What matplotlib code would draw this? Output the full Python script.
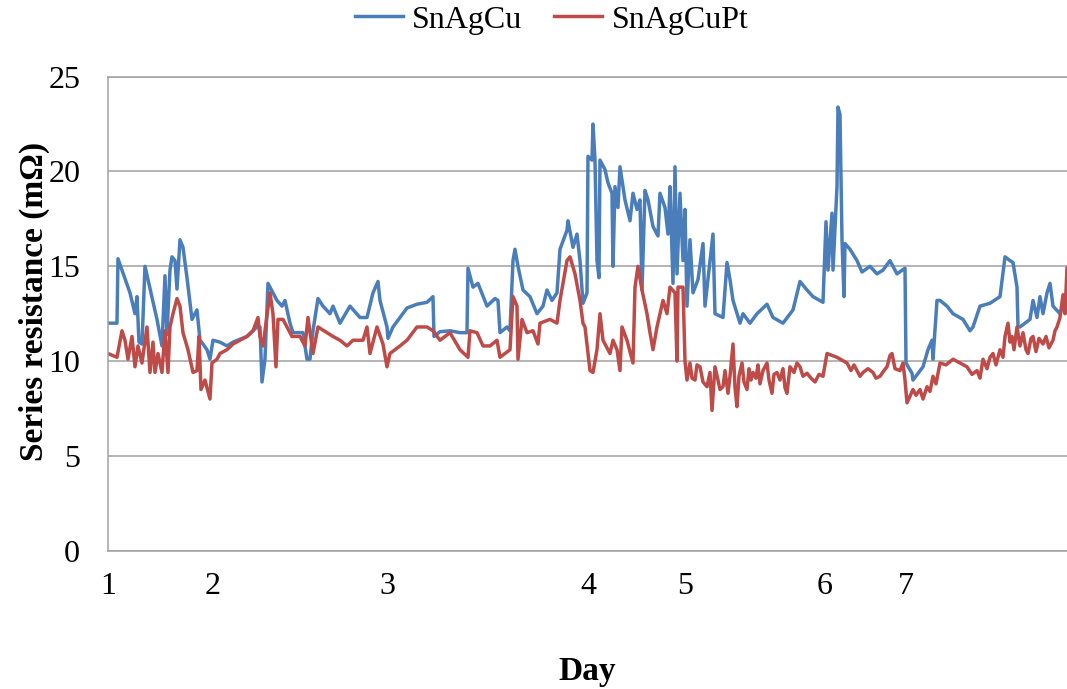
import matplotlib.pyplot as plt

# Series resistance of two solder alloys
# x = sample number along the run (category axis), y = resistance in mOhm
sample_cu = [0, 9, 10, 22, 27, 29, 31, 34, 37, 49, 54, 57, 59, 62, 64, 67, 69, 72, 75, 79,
             84, 89, 92, 95, 99, 102, 105, 112, 119, 125, 139, 149, 152, 154, 157, 160, 165, 169, 174, 177,
             182, 185, 195, 199, 202, 205, 210, 215, 222, 225, 232, 242, 252, 259, 265, 270, 272, 279, 280, 285,
             292, 299, 309, 319, 325, 326, 332, 342, 352, 359, 360, 365, 370, 379, 387, 390, 392, 399, 402, 405,
             407, 410, 415, 422, 429, 435, 439, 444, 449, 452, 459, 460, 465, 469, 472, 475, 479, 480, 484, 485,
             487, 489, 491, 492, 497, 500, 504, 505, 507, 510, 512, 517, 522, 525, 529, 532, 534, 537, 540, 545,
             550, 552, 557, 560, 562, 565, 567, 569, 572, 575, 577, 579, 582, 585, 590, 595, 597, 605, 607, 615,
             619, 622, 625, 632, 635, 642, 649, 659, 665, 675, 685, 692, 699, 705, 715, 718, 720, 724, 725, 729,
             730, 732, 734, 736, 737, 742, 749, 754, 762, 769, 775, 782, 789, 797, 798, 804, 805, 815, 820, 824,
             825, 829, 832, 839, 845, 855, 862, 865, 872, 882, 892, 897, 902, 905, 909, 910, 912, 922, 925, 929,
             932, 935, 939, 942, 945, 952, 955, 959]
res_cu = [12.0, 12.0, 15.4, 13.6, 12.5, 13.4, 11.0, 10.9, 15.0, 12.2, 10.8, 14.5, 11.4, 14.8, 15.5, 15.3, 13.8, 16.4, 16.0, 14.4,
          12.2, 12.7, 11.1, 10.9, 10.6, 10.1, 11.1, 11.0, 10.8, 11.0, 11.3, 11.8, 11.8, 8.9, 10.1, 14.1, 13.6, 13.2, 12.9, 13.2,
          12.0, 11.5, 11.5, 10.1, 10.1, 11.6, 13.3, 12.9, 12.5, 12.9, 12.0, 12.9, 12.3, 12.3, 13.6, 14.2, 13.2, 11.8, 11.2, 11.8,
          12.3, 12.8, 13.0, 13.1, 13.4, 11.3, 11.55, 11.6, 11.5, 11.5, 14.9, 13.9, 14.1, 12.9, 13.3, 13.2, 11.5, 11.8, 11.6, 15.3,
          15.9, 15.0, 13.75, 13.4, 12.5, 12.9, 13.75, 13.2, 13.6, 15.9, 16.9, 17.4, 16.0, 16.7, 15.3, 13.05, 13.6, 20.8, 20.6, 22.5,
          20.6, 15.3, 14.4, 20.6, 20.1, 19.4, 18.85, 15.0, 19.2, 18.1, 20.25, 18.5, 17.4, 18.85, 18.0, 18.5, 13.75, 19.0, 18.5, 17.1,
          16.6, 18.85, 18.1, 16.7, 19.2, 14.1, 20.25, 14.6, 18.85, 15.3, 18.0, 12.9, 16.4, 13.6, 14.3, 16.2, 12.9, 16.7, 12.5, 12.3,
          15.2, 14.3, 13.2, 12.0, 12.5, 12.0, 12.5, 13.0, 12.3, 12.0, 12.7, 14.2, 13.75, 13.4, 13.1, 17.35, 14.8, 17.8, 14.8, 19.2,
          23.4, 23.0, 16.4, 13.4, 16.2, 15.9, 15.3, 14.7, 15.0, 14.6, 14.8, 15.3, 14.6, 14.9, 9.9, 9.36, 9.0, 9.7, 10.6, 11.1,
          10.1, 13.2, 13.2, 12.9, 12.5, 12.2, 11.6, 11.8, 12.9, 13.05, 13.4, 15.5, 15.3, 15.2, 13.9, 11.8, 11.8, 12.2, 13.2, 12.3,
          13.4, 12.5, 13.6, 14.1, 12.9, 12.5, 12.9, 13.2]

sample_pt = [0, 9, 14, 17, 20, 24, 27, 30, 34, 39,
             42, 45, 47, 50, 54, 57, 60, 62, 65, 69,
             72, 75, 80, 85, 89, 91, 93, 97, 102, 104,
             109, 112, 119, 125, 132, 139, 145, 150, 152, 155,
             162, 165, 168, 170, 175, 184, 192, 197, 200, 205,
             210, 219, 225, 232, 239, 245, 255, 259, 262, 269,
             275, 279, 282, 292, 299, 309, 319, 325, 332, 342,
             352, 360, 362, 369, 375, 382, 389, 392, 402, 405,
             409, 410, 414, 419, 425, 430, 432, 442, 449, 452,
             459, 462, 467, 472, 475, 477, 482, 485, 489, 492,
             495, 502, 505, 509, 512, 514, 519, 525, 527, 530,
             534, 539, 542, 545, 549, 555, 559, 562, 567, 569,
             570, 575, 577, 579, 582, 584, 587, 589, 592, 595,
             599, 602, 604, 607, 610, 612, 615, 617, 620, 622,
             625, 627, 629, 631, 634, 636, 639, 641, 643, 645,
             648, 650, 652, 655, 659, 661, 664, 666, 669, 672,
             675, 677, 679, 682, 686, 689, 692, 695, 699, 703,
             707, 711, 715, 719, 729, 739, 743, 746, 749, 752,
             755, 760, 765, 768, 772, 776, 779, 782, 784, 787,
             792, 795, 797, 799, 805, 808, 812, 815, 819, 822,
             825, 828, 832, 838, 845, 852, 859, 864, 869, 872,
             875, 879, 882, 885, 888, 892, 895, 897, 900, 902,
             904, 906, 909, 912, 915, 918, 920, 923, 925, 928,
             931, 935, 938, 941, 945, 947, 949, 952, 955, 957,
             959]
res_pt = [10.4, 10.2, 11.6, 11.1, 10.1, 11.3, 9.7, 10.8, 9.9, 11.8,
          9.4, 11.0, 9.4, 10.4, 9.4, 11.6, 9.4, 11.8, 12.5, 13.3,
          12.9, 11.5, 10.6, 9.4, 9.5, 11.3, 8.5, 9.0, 8.0, 9.9,
          10.1, 10.4, 10.6, 10.9, 11.1, 11.3, 11.6, 12.3, 11.3, 10.8,
          13.6, 12.5, 9.7, 12.2, 12.2, 11.3, 11.3, 10.8, 12.3, 10.4,
          11.8, 11.5, 11.3, 11.1, 10.8, 11.1, 11.1, 11.8, 10.4, 11.8,
          10.9, 9.7, 10.4, 10.8, 11.1, 11.8, 11.8, 11.6, 11.1, 11.5,
          10.6, 10.2, 11.6, 11.5, 10.8, 10.8, 11.1, 10.2, 10.6, 13.4,
          12.9, 10.1, 12.2, 11.5, 11.6, 10.9, 12.0, 12.2, 12.0, 13.2,
          15.3, 15.5, 14.6, 13.2, 12.0, 11.8, 9.5, 9.4, 10.6, 12.5,
          11.1, 10.4, 11.1, 10.6, 9.5, 11.8, 11.1, 9.9, 13.9, 15.0,
          13.75, 12.5, 11.5, 10.6, 11.8, 13.2, 12.5, 13.9, 13.6, 10.0,
          13.9, 13.9, 10.0, 9.0, 9.9, 9.1, 9.0, 9.8, 9.7, 8.9,
          8.65, 9.4, 7.4, 9.7, 9.0, 8.5, 8.65, 9.5, 8.3, 9.2,
          10.9, 8.6, 7.6, 9.2, 9.9, 8.9, 8.5, 9.6, 9.0, 9.4,
          9.1, 9.8, 8.8, 9.5, 9.9, 9.0, 8.3, 9.3, 9.4, 9.0,
          9.6, 8.6, 8.3, 9.7, 9.4, 9.9, 9.7, 9.2, 9.36, 9.1,
          8.9, 9.3, 9.2, 10.4, 10.2, 9.9, 9.5, 9.8, 9.5, 9.2,
          9.4, 9.6, 9.4, 9.1, 9.2, 9.5, 9.7, 10.3, 10.4, 9.6,
          9.5, 9.9, 9.0, 7.8, 8.5, 8.2, 8.5, 8.0, 8.65, 8.4,
          9.2, 8.8, 9.9, 9.8, 10.1, 9.9, 9.7, 9.3, 9.5, 9.1,
          10.1, 9.6, 10.2, 10.4, 9.8, 10.6, 10.2, 11.3, 12.0, 11.0,
          11.3, 10.6, 11.8, 10.8, 11.5, 10.6, 10.4, 11.2, 11.3, 10.5,
          11.2, 10.9, 11.3, 10.7, 11.1, 11.6, 11.8, 12.3, 13.5, 12.5,
          14.9]

# where each day starts on the category axis
day_ticks = [0, 105, 279, 480, 577, 717, 798]
day_labels = ['1', '2', '3', '4', '5', '6', '7']

plt.rcParams['font.family'] = ['Liberation Serif', 'DejaVu Serif']

fig = plt.figure(figsize=(10.67, 6.89), dpi=100)
ax = fig.add_axes([0.1012, 0.2007, 0.8988, 0.688])

ax.plot(sample_cu, res_cu, color='#4A7EBB', linewidth=2.5, label='SnAgCu')
ax.plot(sample_pt, res_pt, color='#BE4B48', linewidth=2.5, label='SnAgCuPt')

ax.set_xlim(0, 959)
ax.set_ylim(0, 25)
ax.set_yticks([0, 5, 10, 15, 20, 25])
ax.set_xticks(day_ticks)
ax.set_xticklabels(day_labels)

# Excel-like horizontal grid, no tick marks
ax.yaxis.grid(True, color='#A0A0A0', linewidth=1.1)
ax.set_axisbelow(True)
ax.tick_params(axis='y', length=0, labelsize=23, pad=20)
ax.tick_params(axis='x', length=0, labelsize=23, pad=15)
for side in ['left', 'bottom', 'top']:
    ax.spines[side].set_color('#A0A0A0')
    ax.spines[side].set_linewidth(1.1)
ax.spines['right'].set_visible(False)

ax.set_xlabel('Day', fontsize=24, fontweight='bold')
ax.xaxis.set_label_coords(0.5, -0.222)
ax.set_ylabel('Series resistance (m\u03a9)', fontsize=24, fontweight='bold')
ax.yaxis.set_label_coords(-0.06, 0.525)

fig.legend(loc='center', bbox_to_anchor=(0.517, 0.971), ncol=2, frameon=False,
           fontsize=23, handlelength=1.5, handletextpad=0.3, columnspacing=1.0)

plt.savefig('out.png', dpi=100)
